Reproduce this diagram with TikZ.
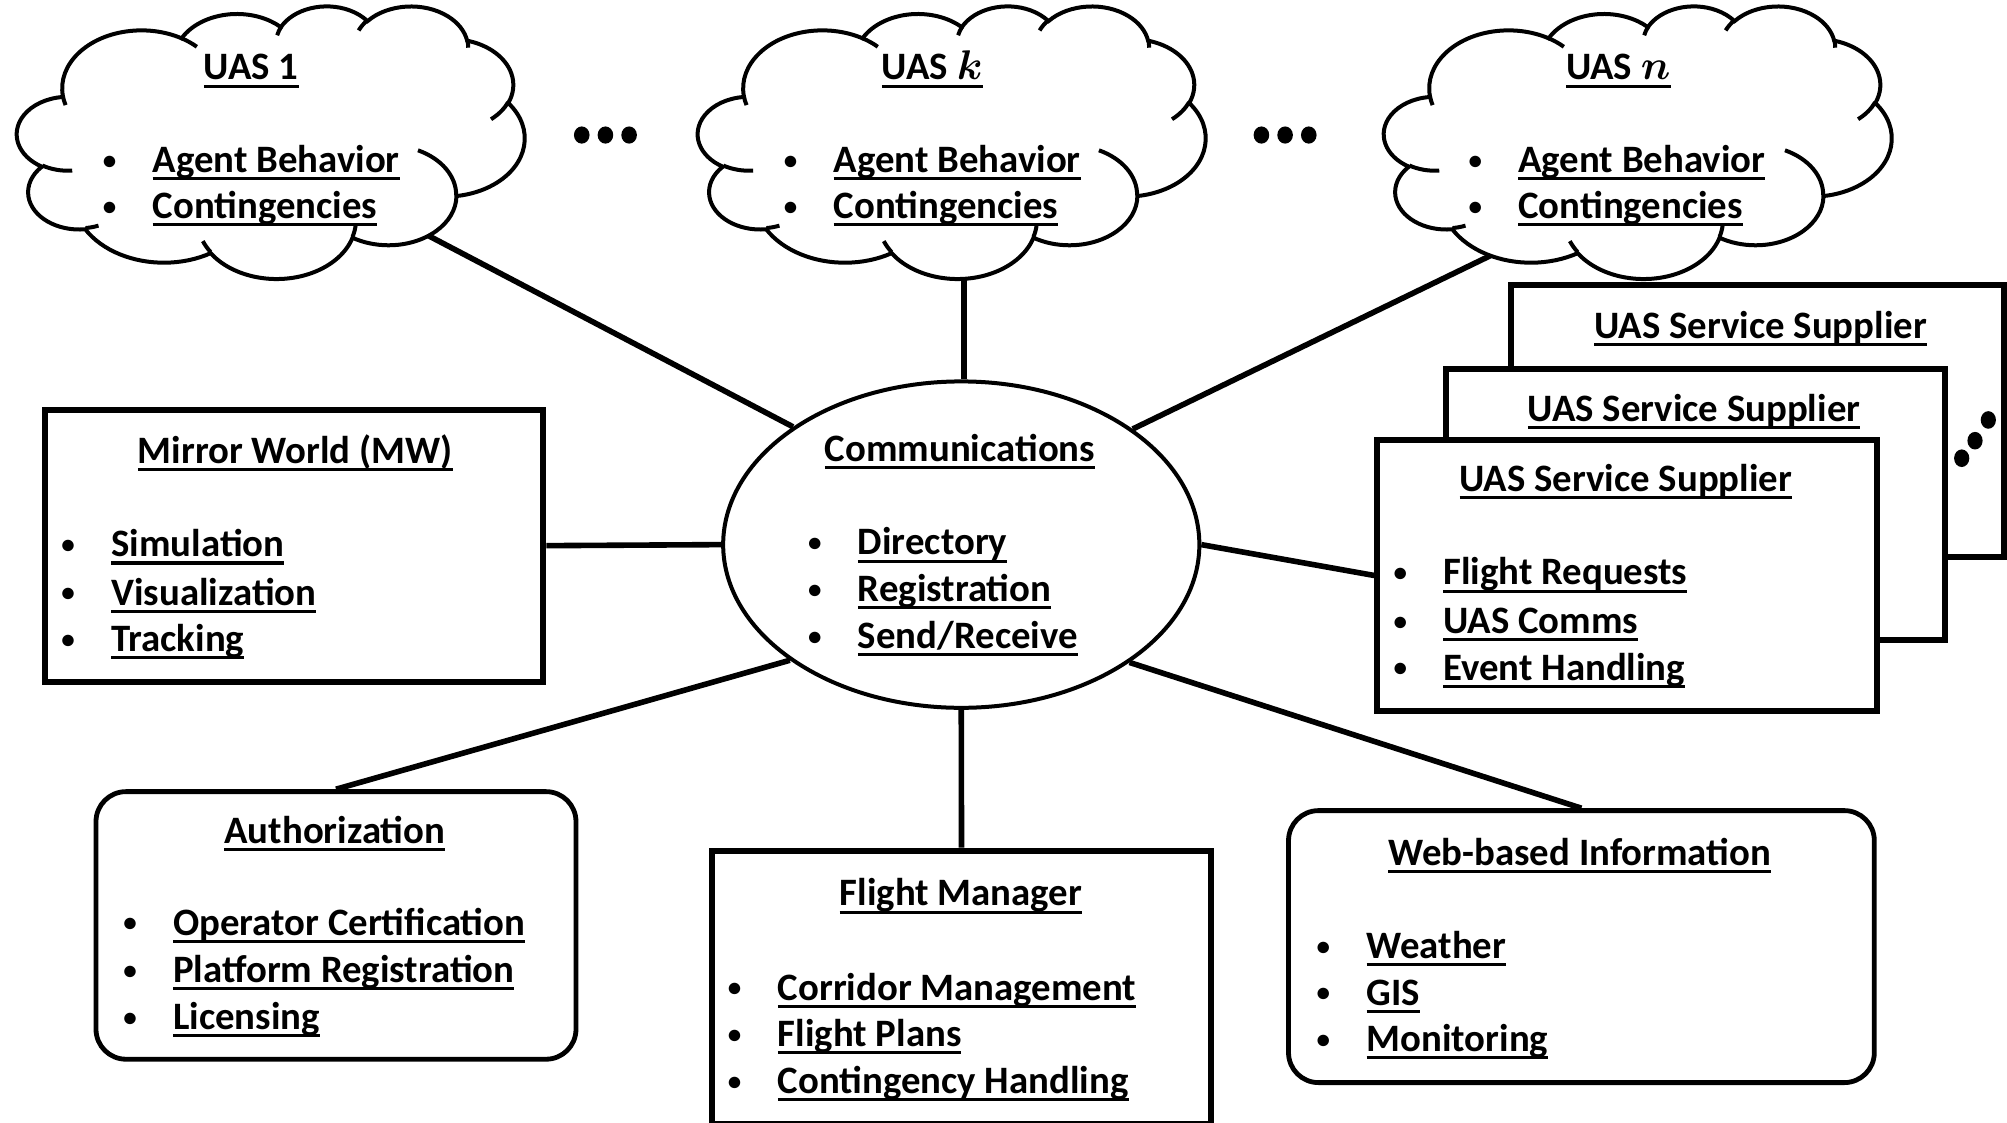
\documentclass[tikz,border=0pt]{standalone}
\usepackage{fontspec}
\setmainfont{Carlito}
\usepackage{bm}
\usetikzlibrary{shapes.geometric}
\newsavebox\ulbox
\newcommand\myul[1]{\sbox\ulbox{#1}\rlap{\rule[-3.9pt]{\wd\ulbox}{1.6pt}}\usebox\ulbox}
\newcommand\bul[1]{\llap{\makebox[0pt][c]{\raisebox{1.6pt}{\fontsize{13.5}{14}\selectfont •}}\hspace{21.6pt}}\myul{#1}}
\newcommand\ftx{\bfseries\fontsize{19.4}{23.4}\selectfont}
\tikzset{
  ttl/.style={anchor=base, inner sep=0pt, font=\ftx},
  itm/.style={anchor=base west, inner sep=0pt, font=\ftx},
  sqbox/.style={draw, line width=3pt, fill=white, inner sep=0pt, rectangle},
  rbox/.style={sqbox, line width=2.4pt, rounded corners=15pt},
  oval/.style={draw, ellipse, line width=2pt, fill=white, inner sep=0pt},
  link/.style={line width=2.8pt},
  cloudline/.style={line width=2pt},
  dotmark/.style={fill=black}
}
\newcommand\uascloud[4]{%
\begin{scope}[shift={(#1,4.31)},x=1pt,y=1pt,xscale=5.873,yscale=-3.154]
\draw[cloudline,fill=white] (3.900,14.370)
 arc[start angle=172.254,delta angle=128.11,x radius=6.753,y radius=9.190]
 arc[start angle=-152.03,delta angle=106.58,x radius=5.333,y radius=7.267]
 arc[start angle=-153.48,delta angle=116.15,x radius=4.365,y radius=5.945]
 arc[start angle=-139.70,delta angle=129.49,x radius=4.857,y radius=6.595]
 arc[start angle=-74.77,delta angle=97.98,x radius=5.333,y radius=7.273]
 arc[start angle=-37.54,delta angle=119.40,x radius=6.775,y radius=9.220]
 arc[start angle=0.4596,delta angle=121.52,x radius=5.785,y radius=7.867]
 arc[start angle=16.84,delta angle=129.41,x radius=6.752,y radius=9.215]
 arc[start angle=58.98,delta angle=91.22,x radius=7.720,y radius=10.543]
 arc[start angle=83.31,delta angle=139.79,x radius=4.360,y radius=5.918]
 arc[start angle=120.36,delta angle=143.75,x radius=4.345,y radius=5.945]
 -- cycle;
\draw[cloudline]
 (4.693,26.177) arc[start angle=85.55,delta angle=34.81,x radius=4.345,y radius=5.945]
 (6.928,34.899) arc[start angle=68.24,delta angle=15.07,x radius=4.360,y radius=5.918]
 (16.478,39.090) arc[start angle=146.25,delta angle=12.22,x radius=6.752,y radius=9.215]
 (28.827,34.751) arc[start angle=4.74,delta angle=12.10,x radius=6.752,y radius=9.215]
 (34.129,22.954) arc[start angle=-64.03,delta angle=64.49,x radius=5.785,y radius=7.867]
 (41.798,15.354) arc[start angle=23.21,delta angle=26.43,x radius=5.333,y radius=7.273]
 (38.324,5.426) arc[start angle=-10.21,delta angle=11.03,x radius=4.857,y radius=6.595]
 (29.078,3.952) arc[start angle=-156.29,delta angle=16.59,x radius=4.857,y radius=6.595]
 (22.141,4.720) arc[start angle=-167.73,delta angle=14.25,x radius=4.365,y radius=5.945]
 (14.000,5.192) arc[start angle=-59.64,delta angle=13.92,x radius=6.753,y radius=9.190]
 (4.127,15.789) arc[start angle=163.19,delta angle=9.06,x radius=6.753,y radius=9.190];
\coordinate (#2) at (#3,#4);
\end{scope}}
\begin{document}
\begin{tikzpicture}[x=0.64pt,y=-0.64pt]
\useasboundingbox (0,0) rectangle (1568,877);
\clip (0,0) rectangle (1568,877);
\fill[white] (0,0) rectangle (1568,877);

% clouds
\uascloud{13.37}{c1att}{35.03}{36.5}
\uascloud{545.37}{ckatt}{22.63}{43.33}
\uascloud{1081.37}{cnatt}{9.04}{39.66}

\node[ttl] (c1t) at (196.3,62.5) {\myul{UAS 1}};
\node[itm] (c1a) at (119,134.7) {\bul{Agent Behavior}};
\node[itm] (c1b) at (119,170.6) {\bul{Contingencies}};
\node[ttl] (ckt) at (728.3,62.5) {\myul{UAS $\bm{k}$}};
\node[itm] (cka) at (651,134.7) {\bul{Agent Behavior}};
\node[itm] (ckb) at (651,170.6) {\bul{Contingencies}};
\node[ttl] (cnt) at (1264.3,62.5) {\myul{UAS $\bm{n}$}};
\node[itm] (cna) at (1186,134.7) {\bul{Agent Behavior}};
\node[itm] (cnb) at (1186,170.6) {\bul{Contingencies}};

% ellipsis dots
\foreach \dx [count=\i] in {454.5,473,491.5}
  \fill[dotmark] (\dx,105.5) ellipse[x radius=3.9pt,y radius=4.3pt];
\foreach \dx [count=\i] in {985.5,1004,1022.5}
  \fill[dotmark] (\dx,105.5) ellipse[x radius=3.9pt,y radius=4.3pt];

% Mirror World
\node[sqbox, minimum width=249.3pt, minimum height=136.1pt] (mw) at (229.75,426.3) {};
\node[ttl] (mwt) at (230.7,362) {\myul{Mirror World (MW)}};
\node[itm] (mw1) at (86.7,435) {\bul{Simulation}};
\node[itm] (mw2) at (86.7,472.7) {\bul{Visualization}};
\node[itm] (mw3) at (86.7,509) {\bul{Tracking}};

% Communications
\node[oval, minimum width=238.1pt, minimum height=163.2pt] (comm) at (751,425.5) {};
\node[ttl] (comt) at (750,360.7) {\myul{Communications}};
\node[itm] (com1) at (670,433.6) {\bul{Directory}};
\node[itm] (com2) at (670,470) {\bul{Registration}};
\node[itm] (com3) at (670,506.5) {\bul{Send/Receive}};

% UAS Service Suppliers
\node[sqbox, minimum width=246.4pt, minimum height=135.9pt] (uss3) at (1373.2,328.9) {};
\node[ttl] (uss3t) at (1375.5,264.3) {\myul{UAS Service Supplier}};
\node[sqbox, minimum width=249.3pt, minimum height=135.5pt] (uss2) at (1324.75,394.2) {};
\node[ttl] (uss2t) at (1323.5,329.4) {\myul{UAS Service Supplier}};
\node[sqbox, minimum width=250pt, minimum height=135.4pt] (uss1) at (1271.3,449.6) {};
\node[ttl] (uss1t) at (1270.2,384) {\myul{UAS Service Supplier}};
\node[itm] (uss1a) at (1127.4,457) {\bul{Flight Requests}};
\node[itm] (uss1b) at (1127.4,494.8) {\bul{UAS Comms}};
\node[itm] (uss1c) at (1127.4,531.3) {\bul{Event Handling}};
\fill[dotmark] (1532.6,358) ellipse[x radius=3.8pt,y radius=4.4pt];
\fill[dotmark] (1543,344.3) ellipse[x radius=3.8pt,y radius=4.4pt];
\fill[dotmark] (1553.4,328.1) ellipse[x radius=3.8pt,y radius=4.4pt];

% Authorization
\node[rbox, minimum width=240pt, minimum height=133.8pt] (auth) at (262.5,723) {};
\node[ttl] (autht) at (261.6,658.9) {\myul{Authorization}};
\node[itm] (auth1) at (135,730.5) {\bul{Operator Certification}};
\node[itm] (auth2) at (135,767.5) {\bul{Platform Registration}};
\node[itm] (auth3) at (135,804.2) {\bul{Licensing}};

% Flight Manager
\node[sqbox, minimum width=249.9pt, minimum height=136.6pt] (fm) at (751.2,771.3) {};
\node[ttl] (fmt) at (750.7,707.8) {\myul{Flight Manager}};
\node[itm] (fm1) at (607.4,781.3) {\bul{Corridor Management}};
\node[itm] (fm2) at (607.4,817.7) {\bul{Flight Plans}};
\node[itm] (fm3) at (607.4,854.2) {\bul{Contingency Handling}};

% Web-based Information
\node[rbox, minimum width=292.9pt, minimum height=136pt] (web) at (1235.5,739.55) {};
\node[ttl] (webt) at (1234.2,675.8) {\myul{Web-based Information}};
\node[itm] (web1) at (1067.3,748.7) {\bul{Weather}};
\node[itm] (web2) at (1067.3,785.2) {\bul{GIS}};
\node[itm] (web3) at (1067.3,821.6) {\bul{Monitoring}};

% connectors
\draw[link] (c1att) -- (comm.145.25);
\draw[link] (ckatt) -- (ckatt |- comm.north);
\draw[link] (cnatt) -- (comm.34.97);
\draw[link] (mw.east) -- (comm.west);
\draw[link] (comm.east) -- (uss1.west);
\draw[link] (comm.214.06) -- (auth.north);
\draw[link] (comm.south) -- (fm.north);
\draw[link] (comm.325.3) -- (web.north);
\end{tikzpicture}
\end{document}
